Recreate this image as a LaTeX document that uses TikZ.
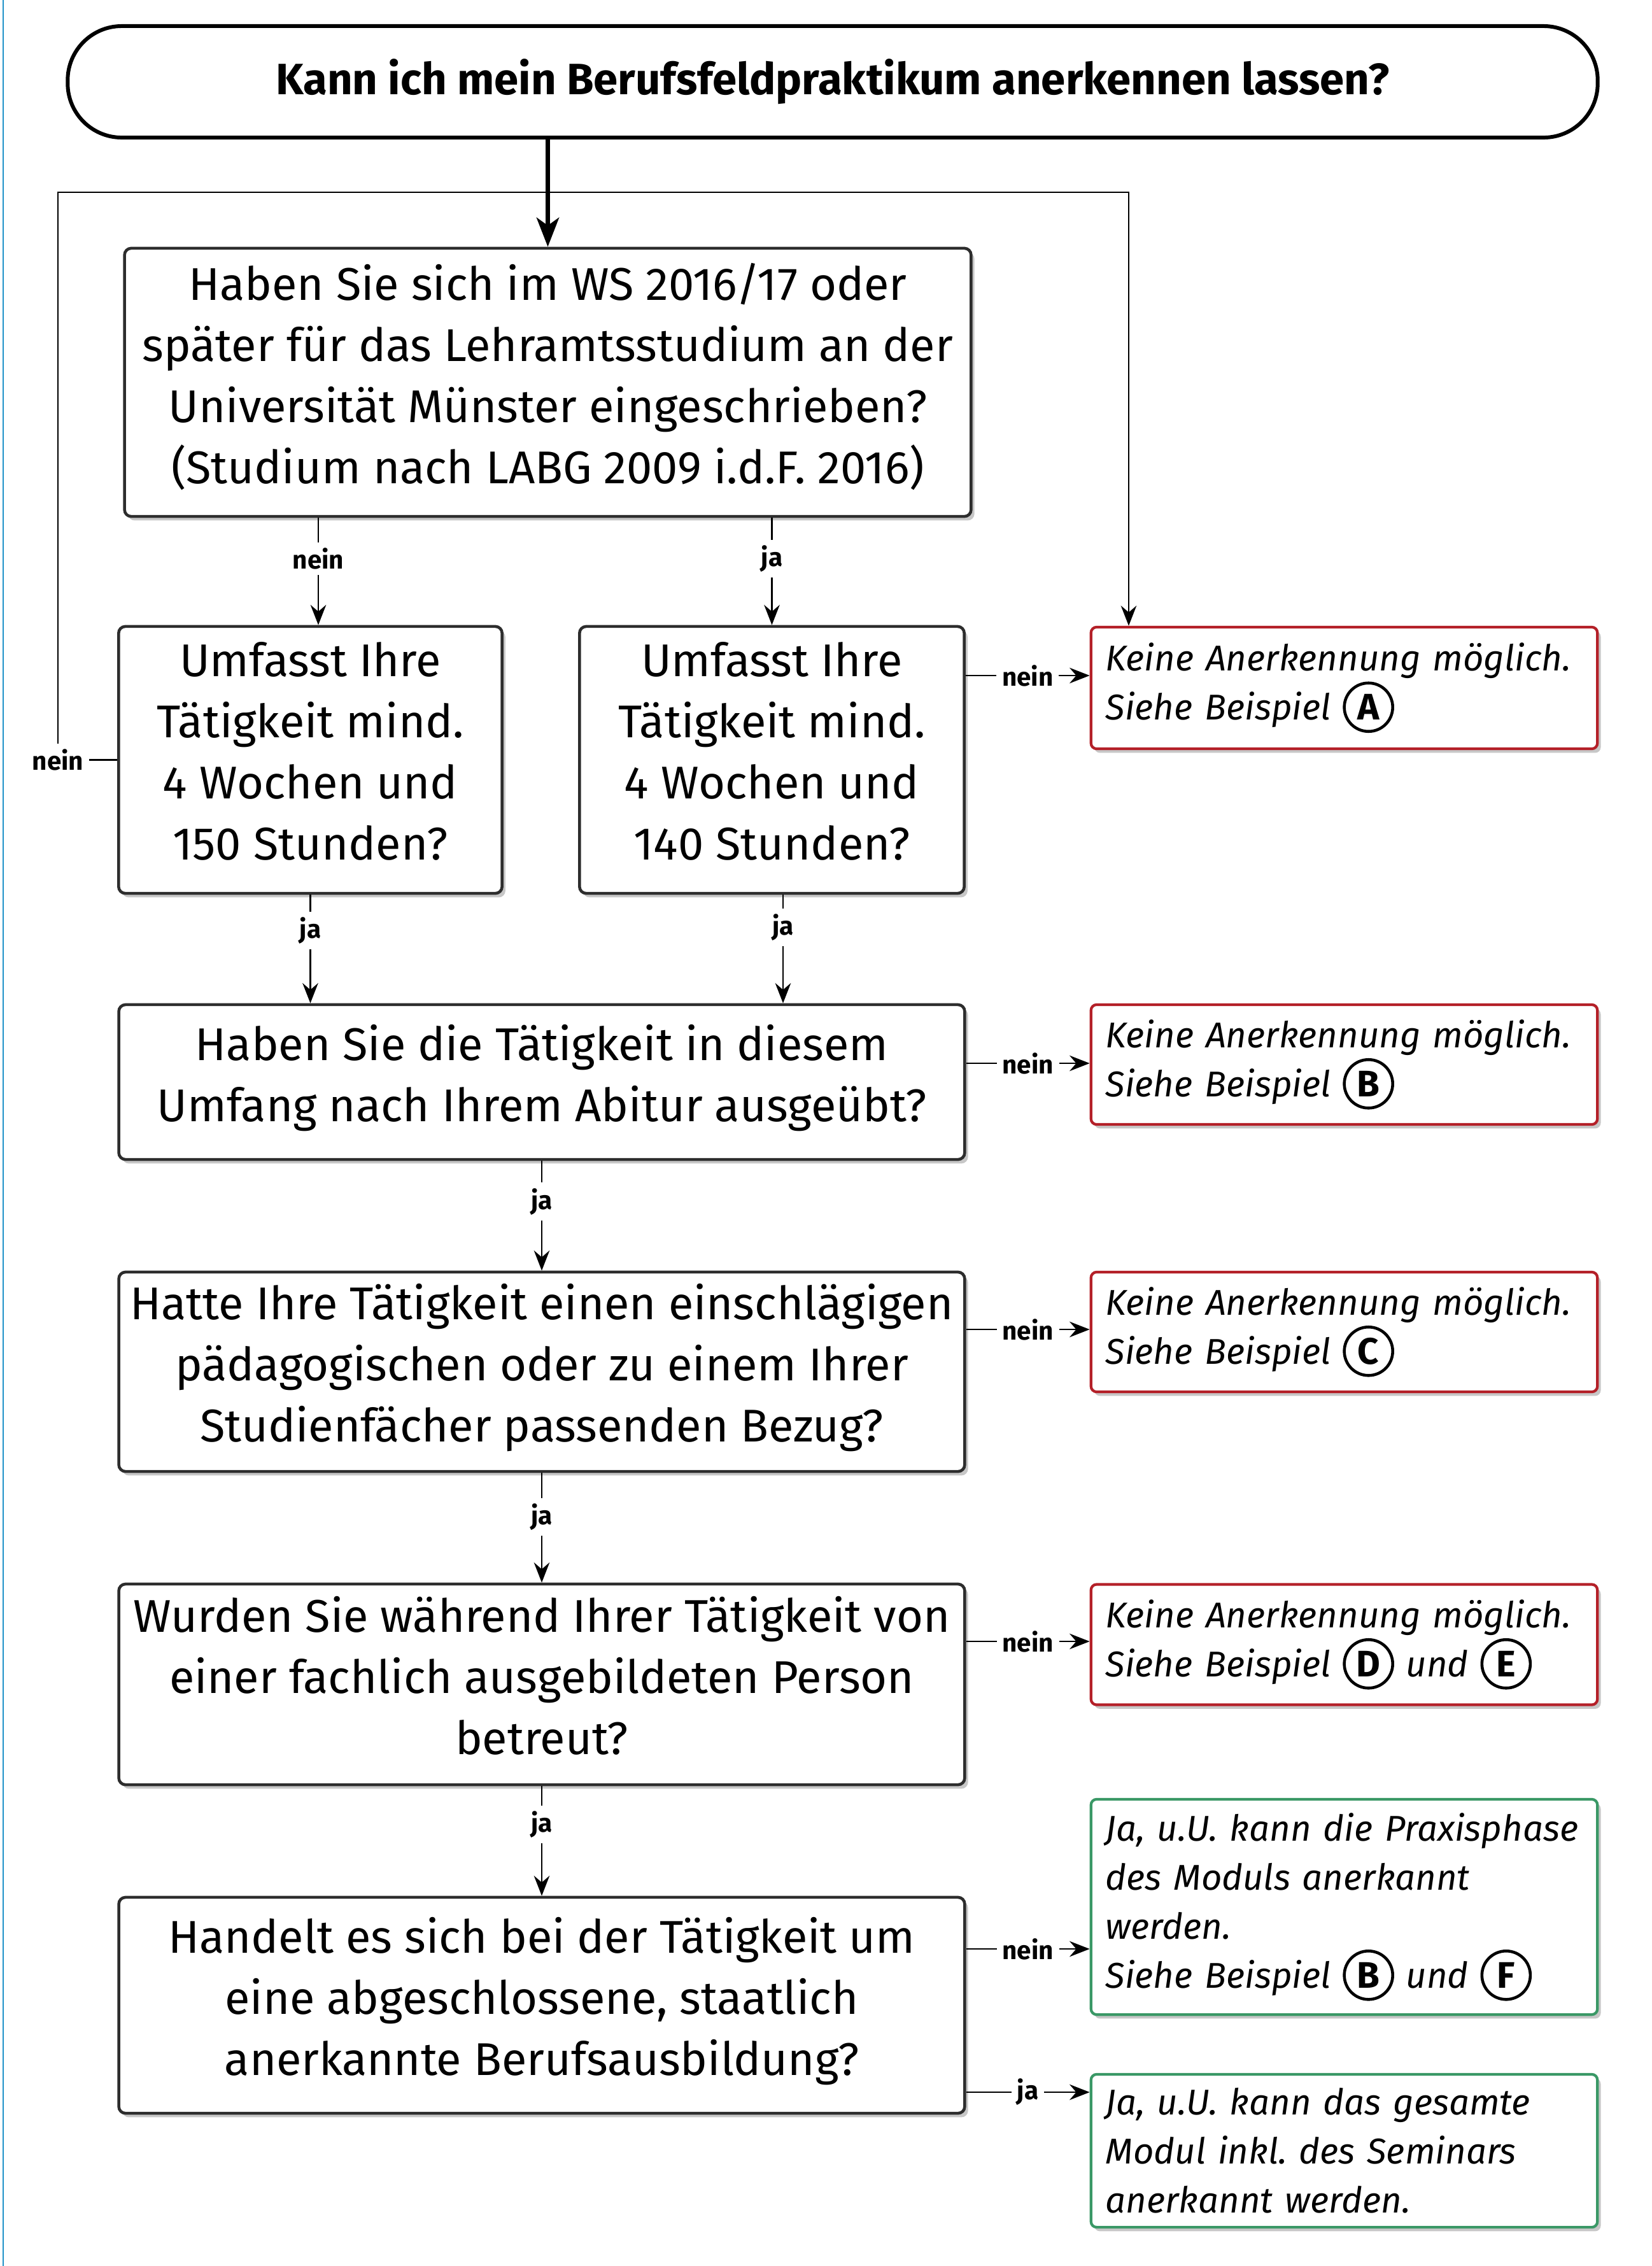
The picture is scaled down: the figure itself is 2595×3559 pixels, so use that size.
\documentclass[tikz,border=0pt]{standalone}
\usepackage{fontspec}
\setmainfont{Fira Sans}
\usetikzlibrary{arrows.meta,shadows}
\definecolor{myred}{RGB}{180,32,40}
\definecolor{mygreen}{RGB}{58,152,102}
\definecolor{edgeblue}{RGB}{32,146,200}
\definecolor{boxgray}{RGB}{45,45,45}
\newcommand{\circlet}[1]{\tikz[baseline=(cc.base)]\node[circle,draw=black,line width=1.3pt,inner sep=0pt,minimum size=0.76cm,font=\normalfont\bfseries\fontsize{16.5}{16.5}\selectfont](cc){#1};}
\newcommand{\lastdp}{\rule[-8pt]{0pt}{0pt}}
\frenchspacing
\begin{document}
\begin{tikzpicture}[x=0.01cm,y=-0.01cm,
  shad/.style={drop shadow={shadow xshift=1.5pt,shadow yshift=-1.8pt,opacity=0.22,fill=black}},
  qbox/.style={shad,draw=boxgray,line width=1.3pt,rounded corners=3pt,fill=white,align=center,inner sep=0pt,
    font=\fontsize{20.5}{27.3}\selectfont},
  rbox/.style={shad,draw=myred,line width=1.2pt,rounded corners=2.5pt,fill=white,align=left,
    inner xsep=0.23cm,inner ysep=0pt,text width=7.49cm,minimum width=7.95cm,
    font=\itshape\fontsize{16}{21.9}\selectfont},
  gbox/.style={rbox,draw=mygreen},
  conn/.style={draw=black,line width=0.6pt,-{Stealth[length=9pt,width=7pt,inset=3pt]}},
  lab/.style={fill=white,inner sep=2.5pt,font=\bfseries\fontsize{11.5}{13}\selectfont},
  ttl/.style={draw=black,line width=1.7pt,rounded corners=0.85cm,fill=white,minimum width=24.02cm,
    minimum height=1.75cm,inner sep=0pt,font=\bfseries\fontsize{19.6}{24}\selectfont}
]
\useasboundingbox (0,0) rectangle (2595,3559);
\draw[edgeblue,line width=0.8pt] (5,0) -- (5,3559);

% title
\node[ttl] (title) at (1308,128.5) {Kann ich mein Berufsfeldpraktikum anerkennen lassen?};

% question boxes
\node[qbox,minimum width=13.29cm,minimum height=4.21cm] (b1) at (860.5,600.5)
  {Haben Sie sich im WS 2016/17 oder\\später für das Lehramtsstudium an der\\Universität Münster eingeschrieben?\\(Studium nach LABG 2009 i.d.F. 2016)\lastdp};
\node[qbox,minimum width=6.02cm,minimum height=4.19cm] (b2) at (487.5,1193.5)
  {Umfasst Ihre\\Tätigkeit mind.\\4 Wochen und\\150 Stunden?\lastdp};
\node[qbox,minimum width=6.04cm,minimum height=4.19cm] (b3) at (1212.5,1193.5)
  {Umfasst Ihre\\Tätigkeit mind.\\4 Wochen und\\140 Stunden?\lastdp};
\node[qbox,minimum width=13.28cm,minimum height=2.43cm] (b4) at (851,1699.5)
  {Haben Sie die Tätigkeit in diesem\\Umfang nach Ihrem Abitur ausgeübt?\lastdp};
\node[qbox,minimum width=13.28cm,minimum height=3.13cm] (b5) at (851,2154.5)
  {Hatte Ihre Tätigkeit einen einschlägigen\\pädagogischen oder zu einem Ihrer\\Studienfächer passenden Bezug?\lastdp};
\node[qbox,minimum width=13.28cm,minimum height=3.15cm] (b6) at (851,2645.5)
  {Wurden Sie während Ihrer Tätigkeit von\\einer fachlich ausgebildeten Person\\betreut?\lastdp};
\node[qbox,minimum width=13.28cm,minimum height=3.39cm] (b7) at (851,3149.5)
  {Handelt es sich bei der Tätigkeit um\\eine abgeschlossene, staatlich\\anerkannte Berufsausbildung?\lastdp};

% result boxes
\node[rbox,minimum height=1.91cm] (rA) at (2111.5,1080.5)
  {Keine Anerkennung möglich.\\Siehe Beispiel \circlet{A}};
\node[rbox,minimum height=1.88cm] (rB) at (2111.5,1672)
  {Keine Anerkennung möglich.\\Siehe Beispiel \circlet{B}};
\node[rbox,minimum height=1.88cm] (rC) at (2111.5,2092)
  {Keine Anerkennung möglich.\\Siehe Beispiel \circlet{C}};
\node[rbox,minimum height=1.89cm] (rD) at (2111.5,2583)
  {Keine Anerkennung möglich.\\Siehe Beispiel \circlet{D} und \circlet{E}};
\node[gbox,minimum height=3.38cm] (gF) at (2111.5,2995)
  {Ja, u.U. kann die Praxisphase\\des Moduls anerkannt\\werden.\\Siehe Beispiel \circlet{B} und \circlet{F}};
\node[gbox,minimum height=2.40cm] (gG) at (2111.5,3378)
  {Ja, u.U. kann das gesamte\\Modul inkl. des Seminars\\anerkannt werden.};

% main arrow
\draw[line width=2pt,-{Stealth[length=13pt,width=10pt,inset=3.5pt]}] (b1.north |- title.south) -- (b1.north);

% loop connector
\coordinate (lc1) at (91,1193.5);
\coordinate (lc2) at (91,302);
\coordinate (lc3) at (1773,302);
\draw[conn] (b2.west) -- (lc1) -- (lc2) -- (lc3) -- (lc3 |- rA.north);
\node[lab] at (lc1) {nein};

% vertical connectors
\draw[conn] ([xshift=0.125cm]b2.north |- b1.south) -- node[lab,pos=0.38]{nein} ([xshift=0.125cm]b2.north);
\draw[conn] (b3.north |- b1.south) -- node[lab,pos=0.38]{ja} (b3.north);
\draw[conn] (b2.south) -- node[lab,pos=0.33]{ja} (b2.south |- b4.north);
\draw[conn] ([xshift=0.175cm]b3.south) -- node[lab,pos=0.3]{ja} ([xshift=0.175cm]b3.south |- b4.north);
\draw[conn] (b4.south) -- node[lab,pos=0.37]{ja} (b5.north);
\draw[conn] (b5.south) -- node[lab,pos=0.4]{ja} (b6.north);
\draw[conn] (b6.south) -- node[lab,pos=0.35]{ja} (b7.north);

% horizontal connectors
\draw[conn] (b3.east |- 0,1061) -- node[lab]{nein} (rA.west |- 0,1061);
\draw[conn] (b4.east |- 0,1670) -- node[lab]{nein} (rB.west |- 0,1670);
\draw[conn] (b5.east |- 0,2088) -- node[lab]{nein} (rC.west |- 0,2088);
\draw[conn] (b6.east |- 0,2578) -- node[lab]{nein} (rD.west |- 0,2578);
\draw[conn] (b7.east |- 0,3061) -- node[lab]{nein} (gF.west |- 0,3061);
\draw[conn] (b7.east |- 0,3286) -- node[lab]{ja} (gG.west |- 0,3286);
\end{tikzpicture}
\end{document}
